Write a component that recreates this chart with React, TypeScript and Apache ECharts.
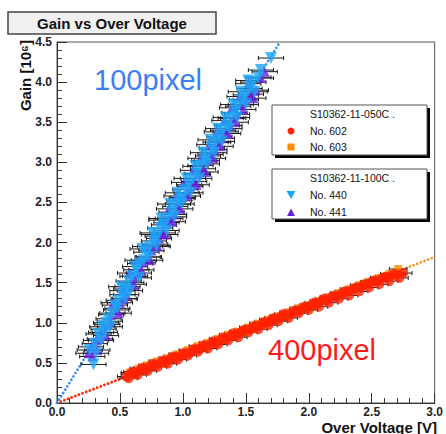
import React, { useEffect, useRef } from "react";
import * as echarts from "echarts";

// ---- data ----
const X_MAX = 3.0;
const Y_MAX = 4.5;
const X_ERR_100 = 0.1;
const X_ERR_400 = 0.07;

// 100 pixel devices (S10362-11-100C)
const no440: number[][] = [
  [0.29, 0.48], [0.26, 0.66], [0.30, 0.74], [0.33, 0.86], [0.36, 0.95], [0.38, 0.88], [0.41, 1.05],
  [0.44, 1.12], [0.46, 1.22], [0.49, 1.28], [0.52, 1.35], [0.55, 1.42], [0.57, 1.52], [0.60, 1.58],
  [0.63, 1.66], [0.66, 1.74], [0.69, 1.78], [0.71, 1.88], [0.74, 1.95], [0.77, 2.02], [0.80, 2.08],
  [0.82, 2.18], [0.85, 2.22], [0.88, 2.30], [0.91, 2.38], [0.94, 2.45], [0.97, 2.52], [1.00, 2.56],
  [1.02, 2.66], [1.05, 2.72], [1.08, 2.80], [1.11, 2.86], [1.14, 2.96], [1.17, 3.02], [1.20, 3.08],
  [1.23, 3.18], [1.26, 3.25], [1.29, 3.32], [1.32, 3.40], [1.35, 3.46], [1.38, 3.55], [1.41, 3.62],
  [1.44, 3.70], [1.47, 3.78], [1.50, 3.84], [1.53, 3.92], [1.56, 4.00], [1.60, 4.06], [1.70, 4.30],
  [0.31, 0.62], [0.35, 0.78], [0.39, 1.00], [0.42, 0.95], [0.48, 1.18], [0.51, 1.45], [0.54, 1.30],
  [0.58, 1.40], [0.62, 1.70], [0.65, 1.56], [0.68, 1.92], [0.73, 1.82], [0.76, 2.12], [0.79, 1.96],
  [0.83, 2.30], [0.87, 2.15], [0.90, 2.48], [0.93, 2.32], [0.96, 2.62], [0.99, 2.48], [1.03, 2.80],
  [1.06, 2.62], [1.10, 2.95], [1.13, 2.80], [1.16, 3.12], [1.19, 2.98], [1.22, 3.28], [1.25, 3.12],
  [1.28, 3.42], [1.31, 3.26], [1.34, 3.56], [1.37, 3.42], [1.40, 3.72], [1.43, 3.56], [1.46, 3.88],
  [1.50, 3.72], [1.52, 4.02], [1.57, 3.88], [1.62, 4.15],
];
const no441: number[][] = [
  [0.25, 0.62], [0.28, 0.58], [0.31, 0.78], [0.34, 0.80], [0.37, 0.92], [0.40, 0.98], [0.43, 1.10],
  [0.47, 1.16], [0.50, 1.25], [0.53, 1.30], [0.56, 1.45], [0.59, 1.50], [0.62, 1.58], [0.65, 1.62],
  [0.68, 1.75], [0.72, 1.82], [0.75, 1.90], [0.78, 1.98], [0.81, 2.05], [0.84, 2.12], [0.87, 2.25],
  [0.90, 2.30], [0.93, 2.35], [0.96, 2.48], [0.99, 2.55], [1.03, 2.62], [1.06, 2.70], [1.09, 2.76],
  [1.12, 2.85], [1.16, 2.92], [1.19, 3.02], [1.22, 3.10], [1.25, 3.16], [1.28, 3.25], [1.31, 3.30],
  [1.34, 3.38], [1.37, 3.46], [1.40, 3.55], [1.43, 3.60], [1.46, 3.72], [1.50, 3.78], [1.54, 3.85],
  [1.58, 3.90], [1.65, 4.13],
  [0.27, 0.70], [0.32, 0.66], [0.35, 0.88], [0.39, 0.84], [0.42, 1.02], [0.45, 1.25], [0.49, 1.12],
  [0.52, 1.40], [0.55, 1.35], [0.58, 1.62], [0.61, 1.48], [0.64, 1.78], [0.67, 1.66], [0.70, 1.95],
  [0.74, 1.78], [0.77, 2.10], [0.80, 1.95], [0.83, 2.28], [0.86, 2.10], [0.89, 2.42], [0.92, 2.26],
  [0.95, 2.58], [0.98, 2.42], [1.01, 2.75], [1.04, 2.58], [1.08, 2.90], [1.11, 2.72], [1.14, 3.05],
  [1.18, 2.88], [1.21, 3.22], [1.24, 3.05], [1.27, 3.38], [1.30, 3.20], [1.33, 3.52], [1.36, 3.36],
  [1.39, 3.68], [1.42, 3.50], [1.45, 3.82], [1.48, 3.66], [1.52, 3.98], [1.56, 3.80], [1.62, 4.05],
];

// 400 pixel devices (S10362-11-050C)
const no602: number[][] = [
  [0.55, 0.33], [0.58, 0.36], [0.62, 0.37], [0.66, 0.41], [0.70, 0.42], [0.74, 0.46], [0.78, 0.47],
  [0.82, 0.50], [0.86, 0.51], [0.90, 0.55], [0.94, 0.57], [0.98, 0.58], [1.02, 0.62], [1.06, 0.63],
  [1.10, 0.67], [1.14, 0.68], [1.18, 0.71], [1.22, 0.74], [1.26, 0.75], [1.30, 0.79], [1.34, 0.80],
  [1.38, 0.84], [1.42, 0.85], [1.46, 0.88], [1.50, 0.91], [1.54, 0.92], [1.58, 0.96], [1.62, 0.97],
  [1.66, 1.00], [1.70, 1.03], [1.74, 1.04], [1.78, 1.08], [1.82, 1.09], [1.86, 1.12], [1.90, 1.15],
  [1.94, 1.16], [1.98, 1.20], [2.02, 1.21], [2.06, 1.24], [2.10, 1.27], [2.14, 1.28], [2.18, 1.32],
  [2.22, 1.33], [2.26, 1.36], [2.30, 1.39], [2.34, 1.40], [2.38, 1.44], [2.42, 1.45], [2.46, 1.48],
  [2.50, 1.51], [2.54, 1.52], [2.58, 1.55], [2.62, 1.57], [2.66, 1.59], [2.70, 1.60], [2.75, 1.62],
  [0.57, 0.31], [0.60, 0.39], [0.64, 0.35], [0.68, 0.44], [0.72, 0.40], [0.76, 0.49], [0.80, 0.45],
  [0.84, 0.53], [0.88, 0.49], [0.92, 0.58], [0.96, 0.54], [1.00, 0.62], [1.04, 0.59], [1.08, 0.67],
  [1.12, 0.64], [1.16, 0.72], [1.20, 0.68], [1.24, 0.77], [1.28, 0.73], [1.32, 0.82], [1.36, 0.78],
  [1.40, 0.87], [1.44, 0.82], [1.48, 0.91], [1.52, 0.88], [1.56, 0.96], [1.60, 0.92], [1.64, 1.01],
  [1.68, 0.97], [1.72, 1.06], [1.76, 1.02], [1.80, 1.11], [1.84, 1.06], [1.88, 1.15], [1.92, 1.12],
  [1.96, 1.20], [2.00, 1.16], [2.04, 1.25], [2.08, 1.20], [2.12, 1.30], [2.16, 1.25], [2.20, 1.34],
  [2.24, 1.30], [2.28, 1.39], [2.32, 1.34], [2.36, 1.43], [2.40, 1.39], [2.44, 1.48], [2.48, 1.44],
  [2.52, 1.53], [2.56, 1.48], [2.60, 1.57], [2.64, 1.52], [2.68, 1.61], [2.72, 1.56],
];
const no603: number[][] = [
  [0.58, 0.38], [0.65, 0.43], [0.72, 0.47], [0.80, 0.52], [0.88, 0.56], [0.96, 0.61], [1.04, 0.66],
  [1.12, 0.71], [1.20, 0.75], [1.28, 0.80], [1.36, 0.85], [1.44, 0.89], [1.52, 0.94], [1.60, 0.99],
  [1.68, 1.04], [1.76, 1.08], [1.84, 1.13], [1.92, 1.18], [2.00, 1.22], [2.08, 1.27], [2.16, 1.32],
  [2.24, 1.37], [2.32, 1.42], [2.40, 1.47], [2.48, 1.51], [2.56, 1.56], [2.64, 1.61], [2.71, 1.67],
];

// fit lines
const fit100: number[][] = [[0, 0], [1.77, 4.5]];
const fit602: number[][] = [[0, 0], [2.75, 1.63]];
const fit603: number[][] = [[0, 0], [3.0, 1.82]];

const FONT = "Liberation Sans, Arial, sans-serif";

function errorBars(data: number[][], err: number, z: number) {
  return {
    type: "custom",
    data,
    z,
    silent: true,
    renderItem: (params: any, api: any) => {
      const x = api.value(0);
      const y = api.value(1);
      const p1 = api.coord([x - err, y]);
      const p2 = api.coord([x + err, y]);
      const st = { stroke: "#1a1a1a", lineWidth: 1 };
      return {
        type: "group",
        children: [
          { type: "line", shape: { x1: p1[0], y1: p1[1], x2: p2[0], y2: p2[1] }, style: st },
          { type: "line", shape: { x1: p1[0], y1: p1[1] - 2, x2: p1[0], y2: p1[1] + 2 }, style: st },
          { type: "line", shape: { x1: p2[0], y1: p2[1] - 2, x2: p2[0], y2: p2[1] + 2 }, style: st },
        ],
      };
    },
  };
}

function fitLine(data: number[][], color: string, z: number) {
  return {
    type: "line",
    data,
    z,
    symbol: "none",
    silent: true,
    lineStyle: { color, width: 2.6, type: [0.1, 3.8], cap: "round" },
  };
}

export default function App() {
  const ref = useRef<HTMLDivElement>(null);
  useEffect(() => {
    if (!ref.current) return;
    const chart = echarts.init(ref.current, undefined, { renderer: "svg" });
    const axisCommon = {
      type: "value",
      interval: 0.5,
      axisLine: { show: true, lineStyle: { color: "#333", width: 1 } },
      axisTick: { show: true, inside: true, length: 10, lineStyle: { color: "#333" } },
      minorTick: { show: true, splitNumber: 5, length: 5, lineStyle: { color: "#333" } },
      splitLine: { show: false },
      axisLabel: {
        formatter: (v: number) => v.toFixed(1),
        fontFamily: FONT,
        fontWeight: "bold",
        fontSize: 12,
        color: "#222",
        margin: 5,
      },
    };
    const legendBox = (x: number, y: number, w: number, h: number) => [
      { type: "rect", shape: { x: x + 3, y: y + 3, width: w, height: h }, style: { fill: "#000" }, z: 10 },
      { type: "rect", shape: { x, y, width: w, height: h }, style: { fill: "#fff", stroke: "#555", lineWidth: 1 }, z: 11 },
    ];
    const txt = (x: number, y: number, text: string) => ({
      type: "text",
      x,
      y,
      z: 12,
      style: { text, fontFamily: FONT, fontSize: 10.5, fill: "#111", verticalAlign: "middle" },
    });
    chart.setOption({
      animation: false,
      backgroundColor: "#fff",
      grid: { left: 57, top: 42, right: 11, bottom: 31, show: true, borderColor: "#555", borderWidth: 1 },
      xAxis: { ...axisCommon, min: 0, max: X_MAX, axisLabel: { ...axisCommon.axisLabel, margin: 3 } },
      yAxis: { ...axisCommon, min: 0, max: Y_MAX },
      series: [
        fitLine(fit603, "#ff8c1a", 2),
        fitLine(fit602, "#ff2a1a", 3),
        fitLine(fit100, "#2f8cff", 3),
        errorBars(no602, X_ERR_400, 4),
        errorBars(no603, X_ERR_400, 4),
        errorBars(no440, X_ERR_100, 4),
        errorBars(no441, X_ERR_100, 4),
        { type: "scatter", data: no603, z: 5, symbol: "rect", symbolSize: 8, itemStyle: { color: "#ff8c00" }, silent: true },
        { type: "scatter", data: no602, z: 6, symbol: "circle", symbolSize: 10, itemStyle: { color: "#ff2200" }, silent: true },
        { type: "scatter", data: no441, z: 5, symbol: "triangle", symbolSize: 10, itemStyle: { color: "#6a1fe0" }, silent: true },
        { type: "scatter", data: no440, z: 6, symbol: "triangle", symbolRotate: 180, symbolSize: 12, itemStyle: { color: "#1ea6f5" }, silent: true },
      ],
      graphic: [
        // title box
        { type: "rect", shape: { x: 8, y: 12, width: 208, height: 22 }, style: { fill: "#f0f0f0", stroke: "#444", lineWidth: 1.5 }, z: 10 },
        { type: "text", x: 112, y: 23.5, z: 11, style: { text: "Gain vs Over Voltage", fontFamily: FONT, fontWeight: "bold", fontSize: 15, fill: "#111", align: "center", verticalAlign: "middle" } },
        // axis titles
        { type: "text", x: 25, y: 40, rotation: Math.PI / 2, z: 11, style: { text: "Gain [10⁶]", fontFamily: FONT, fontWeight: "bold", fontSize: 15, fill: "#111", align: "right", verticalAlign: "middle" } },
        { type: "text", x: 437, y: 434, z: 11, style: { text: "Over Voltage [V]", fontFamily: FONT, fontWeight: "bold", fontSize: 15, fill: "#111", align: "right", verticalAlign: "bottom", lineHeight: 14 } },
        // annotations
        { type: "text", x: 94, y: 80, z: 11, style: { text: "100pixel", fontFamily: FONT, fontSize: 29, fill: "#3a7ef5", verticalAlign: "middle" } },
        { type: "text", x: 268, y: 350, z: 11, style: { text: "400pixel", fontFamily: FONT, fontSize: 29, fill: "#ff1a1a", verticalAlign: "middle" } },
        // legend 1
        ...legendBox(272, 105, 155, 50),
        txt(310, 114, "S10362-11-050C ."),
        { type: "circle", shape: { cx: 291, cy: 131, r: 3.5 }, style: { fill: "#ff2200" }, z: 12 },
        txt(310, 131, "No. 602"),
        { type: "rect", shape: { x: 287.5, y: 143.5, width: 7, height: 7 }, style: { fill: "#ff8c00" }, z: 12 },
        txt(310, 147, "No. 603"),
        // legend 2
        ...legendBox(272, 169, 155, 50),
        txt(310, 178, "S10362-11-100C ."),
        { type: "polygon", shape: { points: [[286.5, 191], [295.5, 191], [291, 199]] }, style: { fill: "#1ea6f5" }, z: 12 },
        txt(310, 195, "No. 440"),
        { type: "polygon", shape: { points: [[287, 216], [295, 216], [291, 208.5]] }, style: { fill: "#6a1fe0" }, z: 12 },
        txt(310, 212, "No. 441"),
      ],
    });
    return () => chart.dispose();
  }, []);
  return <div ref={ref} style={{ position: "fixed", left: 0, top: 0, width: 446, height: 434 }} />;
}
